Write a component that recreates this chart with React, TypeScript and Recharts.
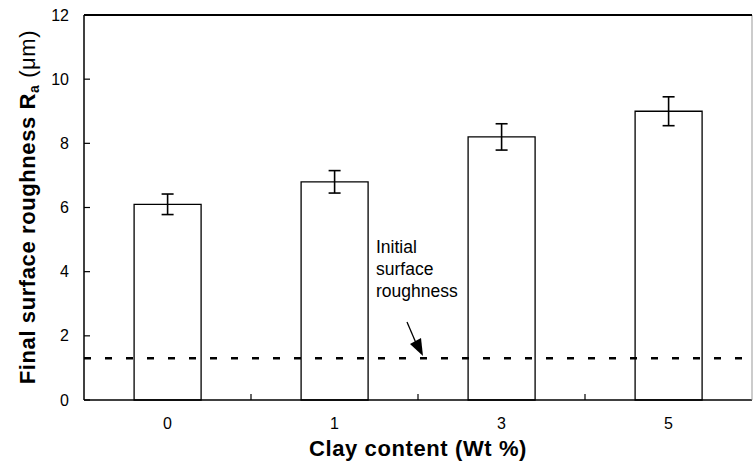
import { Bar, BarChart, ErrorBar, ReferenceLine, XAxis, YAxis } from "recharts"

// Clay content categories (wt %) and measured final roughness Ra (µm)
const clayContent = ["0", "1", "3", "5"]
const finalRoughness = [6.1, 6.8, 8.2, 9.0]
const roughnessError = [0.32, 0.35, 0.41, 0.45]
const initialRoughness = 1.3
const yTicks = [0, 2, 4, 6, 8, 10, 12]

const data = clayContent.map((clay, i) => ({
  clay,
  ra: finalRoughness[i],
  err: roughnessError[i],
}))

const W = 753
const H = 467
const margin = { top: 15, right: 0, bottom: 0, left: 0 }
const yAxisWidth = 84
const xAxisHeight = 67
const plotWidth = W - margin.left - margin.right - yAxisWidth - 1
const band = plotWidth / clayContent.length
const font = "'Liberation Sans', Arial, Helvetica, sans-serif"

const YTick = ({ x, y, payload }: any) => (
  <g>
    <line x1={x + 15} x2={x + 21} y1={y} y2={y} stroke="#000" strokeWidth={1.2} />
    <text x={x} y={y} dy={5.5} textAnchor="end" fontSize={16} fill="#000" fontFamily={font}>
      {payload.value}
    </text>
  </g>
)

// category labels sit mid-band, tick marks point up at the band boundaries
const XTick = ({ x, y, payload, index }: any) => (
  <g>
    {index > 0 && (
      <line x1={x - band / 2} x2={x - band / 2} y1={y - 15} y2={y - 21} stroke="#000" strokeWidth={1.2} />
    )}
    <text x={x} y={y} dy={14} textAnchor="middle" fontSize={16} fill="#000" fontFamily={font}>
      {payload.value}
    </text>
  </g>
)

export default function App() {
  return (
    <div style={{ position: "absolute", left: 0, top: 0, width: W, height: H, background: "#fff" }}>
      <BarChart width={W} height={H} data={data} margin={margin} barCategoryGap="30%">
        <XAxis
          dataKey="clay"
          height={xAxisHeight}
          tickSize={0}
          tickMargin={15}
          tick={<XTick />}
          axisLine={{ stroke: "#000", strokeWidth: 1.5 }}
        />
        <YAxis
          domain={[0, 12]}
          ticks={yTicks}
          width={yAxisWidth}
          tickSize={0}
          tickMargin={15}
          tick={<YTick />}
          axisLine={{ stroke: "#000", strokeWidth: 1.5 }}
        />
        <YAxis yAxisId="right" orientation="right" width={1} tick={false} axisLine={{ stroke: "#999", strokeWidth: 1 }} />
        <Bar dataKey="ra" fill="#fff" stroke="#000" strokeWidth={1.3} isAnimationActive={false}>
          <ErrorBar dataKey="err" width={6} stroke="#000" strokeWidth={1.6} direction="y" />
        </Bar>
        <ReferenceLine y={initialRoughness} stroke="#000" strokeWidth={2.5} strokeDasharray="7 14" />
      </BarChart>
      <svg width={W} height={H} style={{ position: "absolute", left: 0, top: 0, pointerEvents: "none" }}>
        {/* top frame of the plot area */}
        <path d={`M${yAxisWidth},${margin.top}H${W - 1}`} stroke="#000" strokeWidth={2} fill="none" />
        <text
          transform="translate(35,207) rotate(-90)"
          textAnchor="middle"
          fontSize={22}
          fontWeight="bold"
          letterSpacing={0.6}
          fontFamily={font}
          fill="#000"
        >
          Final surface roughness R
          <tspan fontSize={14} dy={4}>a</tspan>
          <tspan dy={-4} fontWeight="normal"> (μm)</tspan>
        </text>
        <text
          x={418}
          y={456}
          textAnchor="middle"
          fontSize={22}
          fontWeight="bold"
          letterSpacing={0.6}
          fontFamily={font}
          fill="#000"
        >
          Clay content (Wt %)
        </text>
        <g fontSize={17.5} fontFamily={font} fill="#000">
          <text x={376} y={253}>Initial</text>
          <text x={376} y={275}>surface</text>
          <text x={376} y={297}>roughness</text>
        </g>
        <line x1={407} y1={322} x2={416} y2={343} stroke="#000" strokeWidth={1.3} />
        <polygon points="423,356 410,344 421,338" fill="#000" />
      </svg>
    </div>
  )
}
